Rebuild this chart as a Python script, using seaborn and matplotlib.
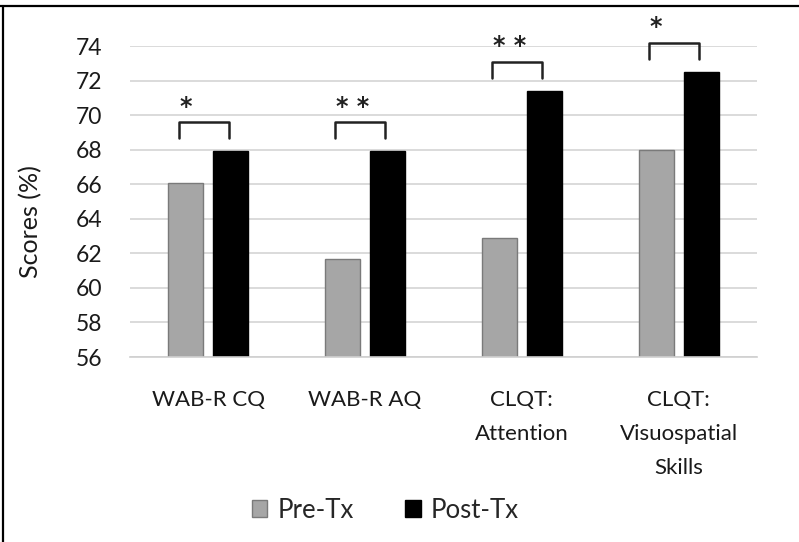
import matplotlib
matplotlib.use("Agg")
import matplotlib.pyplot as plt
from matplotlib.patches import Patch
from matplotlib.lines import Line2D
import seaborn as sns
import pandas as pd

# Measures and mean scores before / after treatment
measures = ["WAB-R CQ", "WAB-R AQ", "CLQT:\nAttention", "CLQT:\nVisuospatial\nSkills"]
pre_tx = [66.1, 61.7, 62.9, 68.0]
post_tx = [67.9, 67.9, 71.4, 72.5]
significance = ["*", "**", "**", "*"]
series_names = ["Pre-Tx", "Post-Tx"]
y_ticks = [56, 58, 60, 62, 64, 66, 68, 70, 72, 74]

df = pd.DataFrame({
    "Measure": measures * 2,
    "Phase": [series_names[0]] * len(measures) + [series_names[1]] * len(measures),
    "Score": pre_tx + post_tx,
})

sns.set_theme(style="white")
plt.rcParams["font.family"] = ["Lato", "DejaVu Sans"]

fig = plt.figure(figsize=(7.99, 5.42), dpi=100)
ax = fig.add_axes([0.1627, 0.3413, 0.7847, 0.5738])

colors = {"Pre-Tx": "#a6a6a6", "Post-Tx": "#000000"}
sns.barplot(data=df, x="Measure", y="Score", hue="Phase", palette=colors,
            width=0.574, gap=0.22, ax=ax, legend=False, zorder=3)

for bar, phase in zip(ax.patches, ["Pre-Tx"] * 4 + ["Post-Tx"] * 4):
    bar.set_edgecolor("#7a7a7a" if phase == "Pre-Tx" else "#000000")
    bar.set_linewidth(1.0)

ax.set_ylim(56, 74)
ax.set_yticks(y_ticks)
ax.set_xlim(-0.5, len(measures) - 0.5)
ax.yaxis.grid(True, color="#d4d4d4", linewidth=1.2, zorder=0)
ax.set_axisbelow(True)
for side in ["top", "right", "left"]:
    ax.spines[side].set_visible(False)
ax.spines["bottom"].set_color("#cfcfcf")
ax.spines["bottom"].set_linewidth(1.2)
ax.spines["bottom"].set_zorder(4)

ax.tick_params(axis="y", length=0, pad=20, labelsize=16.5, colors="#1a1a1a")
ax.tick_params(axis="x", length=0, pad=24, labelsize=16, colors="#1a1a1a")
ax.set_xticks(range(len(measures)))
ax.set_xticklabels(measures, fontsize=16, linespacing=1.85)
ax.set_xlabel("")
ax.set_ylabel("Scores (%)", fontsize=18, color="#1a1a1a")
ax.yaxis.set_label_coords(-0.1404, 0.436)

# Significance brackets above each pair
for i, (val, mark) in enumerate(zip(post_tx, significance)):
    x0, x1 = i - 0.19, i + 0.13
    top, leg = val + 1.7, val + 0.75
    ax.plot([x0, x0, x1, x1], [leg, top, top, leg], color="#222222",
            linewidth=1.8, solid_joinstyle="round", clip_on=False, zorder=5)
    ax.text(x0 + 0.005, top + 0.2, " ".join(mark), ha="left", va="bottom",
            fontsize=17, fontweight="bold", color="#222222", clip_on=False,
            family="DejaVu Sans")

handles = [Patch(facecolor=colors[n], edgecolor="#7a7a7a" if n == "Pre-Tx" else "#000000")
           for n in series_names]
fig.legend(handles, series_names, loc="center", bbox_to_anchor=(0.4825, 1 - 510 / 542),
           ncol=2, frameon=False, fontsize=18.5, handlelength=0.6, handleheight=0.6,
           handletextpad=0.4, columnspacing=2.0)

# Frame lines along the top and left edges
fig.add_artist(Line2D([0, 1], [1 - 6 / 542] * 2, transform=fig.transFigure,
                      color="black", linewidth=1.6))
fig.add_artist(Line2D([3 / 799] * 2, [0, 1 - 6 / 542], transform=fig.transFigure,
                      color="black", linewidth=1.6))

fig.savefig("out.png", dpi=100)
